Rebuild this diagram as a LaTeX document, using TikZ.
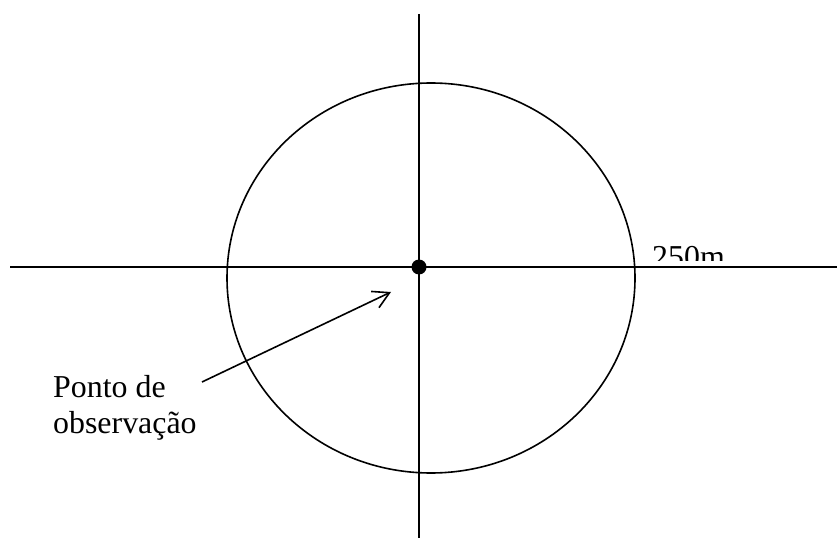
\documentclass[tikz,border=0pt]{standalone}
\usepackage{fontspec}
\setmainfont{Liberation Serif}
\usetikzlibrary{arrows.meta}
\begin{document}
\begin{tikzpicture}[x=1bp,y=-1bp,
  axis/.style={line width=1.7bp,black},
  ring/.style={line width=1.6bp,black},
  lbl/.style={font=\fontsize{32}{36}\selectfont,inner sep=0pt},
  pointer/.style={line width=1.6bp,-{Straight Barb[length=16bp,width=18bp,line width=1.6bp]}}]
\useasboundingbox (0,0) rectangle (837,538);
\coordinate (hl) at (10,267);
\coordinate (hr) at (837,267);
\coordinate (vt) at (419,14);
\coordinate (vb) at (419,538);
\draw[axis] (hl) -- (hr);
\draw[axis] (vt) -- (vb);
\draw[ring] (431,278) ellipse [x radius=204, y radius=195];
\node[circle,fill=black,inner sep=0pt,minimum size=15bp] (dot) at (419,267) {};
\begin{scope}
  \clip (600,200) rectangle (760,261);
  \node[lbl,anchor=base west] (r250) at (652,268) {250m};
\end{scope}
\node[lbl,anchor=base west,align=left] (obs) at (53,433) {Ponto de\\observação};
\coordinate (as) at (202,382);
\coordinate (ae) at (391,292);
\draw[pointer] (as) -- (ae);
\end{tikzpicture}
\end{document}
